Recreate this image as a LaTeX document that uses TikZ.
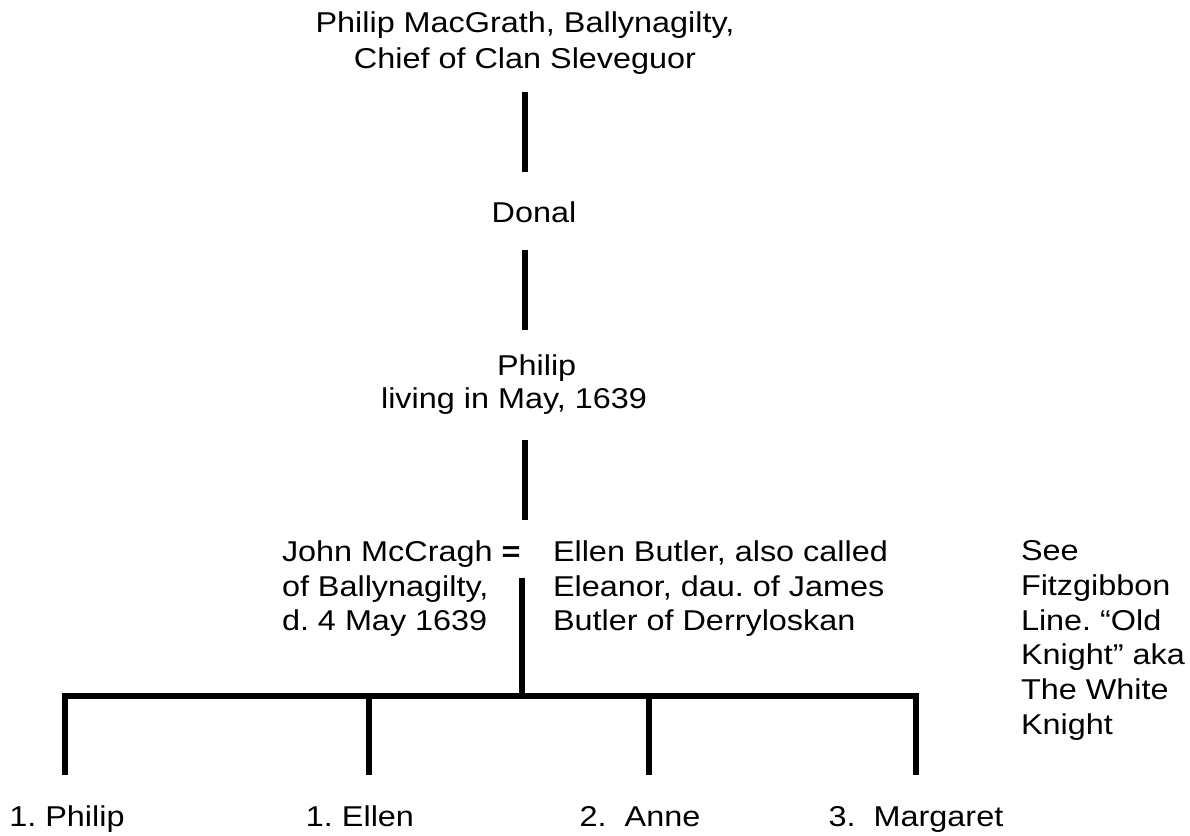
\documentclass[tikz,border=0pt]{standalone}
\usepackage{fontspec}
\setmainfont[FakeStretch=1.13]{Liberation Sans}
\frenchspacing
\begin{document}
\begin{tikzpicture}[x=0.75pt, y=-0.75pt, line width=4.5pt,
  font=\fontsize{21.5}{26}\selectfont,
  every node/.style={inner sep=0pt, outer sep=0pt},
  person/.style={align=center, anchor=north},
  spouse/.style={align=left, anchor=north west},
  kid/.style={anchor=base}]

\useasboundingbox (0,0) rectangle (1190,836);

% předci
\node[person, font=\fontsize{21.5}{27}\selectfont] (chief) at (525,11.7) {Philip MacGrath, Ballynagilty,\\Chief of Clan Sleveguor};
\node[anchor=base] (donal) at (534,222.3) {Donal};
\node[person, font=\fontsize{21.5}{24.2}\selectfont] (philip) at (514,355) {\hspace*{34pt}Philip\\living in May, 1639};
\coordinate (son) at (525,520);

\draw[shorten <=13pt, shorten >=22pt] (chief.south) -- (chief.south |- donal.north);
\draw[shorten <=20.8pt, shorten >=18.75pt] (donal.south -| chief.south) -- (philip.north -| chief.south);
\draw[shorten <=19.3pt] (philip.south -| son) -- (son);

% manželé
\node[spouse] (john) at (282,540.7) {John McCragh \textbf{=}\\of Ballynagilty,\\d. 4 May 1639};
\node[spouse] (ellen) at (553,540.7) {Ellen Butler, also called\\Eleanor, dau. of James\\Butler of Derryloskan};
\node[spouse] (see) at (1021,540.7) {See\\Fitzgibbon\\Line. “Old\\Knight” aka\\The White\\Knight};
\coordinate (wed) at (522,578);
\coordinate (bar) at (522,696);
\draw (wed) -- (bar);

% děti
\node[kid] (kid1) at (67,826.7) {1. Philip};
\node[kid] (kid2) at (360,826.7) {1. Ellen};
\node[kid] (kid3) at (640,826.7) {2.\ \ Anne};
\node[kid] (kid4) at (916,826.7) {3.\ \ Margaret};
\coordinate (d1) at (65,775);
\coordinate (d2) at (369,775);
\coordinate (d3) at (649,775);
\coordinate (d4) at (916,775);

\draw[line cap=rect] (bar -| d1) -- (bar -| d4);
\foreach \d in {d1,d2,d3,d4}
  \draw (bar -| \d) -- (\d);

\end{tikzpicture}
\end{document}
